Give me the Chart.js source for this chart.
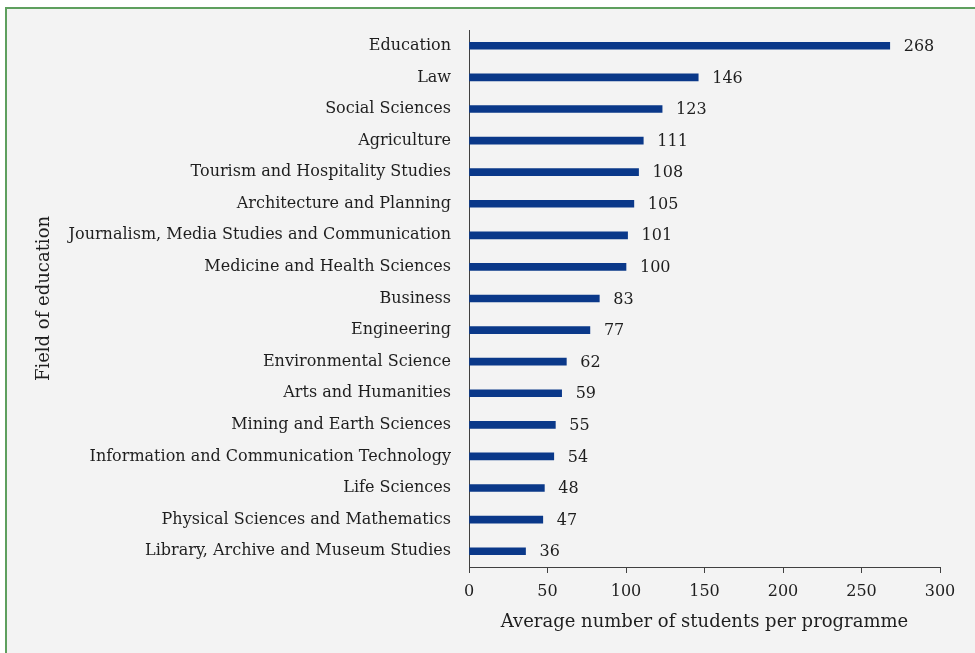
<!DOCTYPE html>
<html>
<head>
<meta charset="utf-8">
<script src="https://cdn.jsdelivr.net/npm/chart.js@4/dist/chart.umd.min.js"></script>
<style>
html,body{margin:0;padding:0;background:#ffffff;}
#frame{position:absolute;left:5px;top:7px;width:970px;height:646px;background:#f3f3f3;border-left:2px solid #5e9f5e;border-top:2px solid #5e9f5e;box-sizing:border-box;}
#wrap{position:absolute;left:0;top:0;width:975px;height:653px;}
</style>
</head>
<body>
<div id="frame"></div>
<div id="wrap"><canvas id="c" width="975" height="653"></canvas></div>
<script>
const categories = [
  "Education",
  "Law",
  "Social Sciences",
  "Agriculture",
  "Tourism and Hospitality Studies",
  "Architecture and Planning",
  "Journalism, Media Studies and Communication",
  "Medicine and Health Sciences",
  "Business",
  "Engineering",
  "Environmental Science",
  "Arts and Humanities",
  "Mining and Earth Sciences",
  "Information and Communication Technology",
  "Life Sciences",
  "Physical Sciences and Mathematics",
  "Library, Archive and Museum Studies"
];
const values = [268, 146, 123, 111, 108, 105, 101, 100, 83, 77, 62, 59, 55, 54, 48, 47, 36];
const xTickValues = [0, 50, 100, 150, 200, 250, 300];
const xTitle = "Average number of students per programme";
const yTitle = "Field of education";

const FONT = "'DejaVu Serif', serif";
const TEXT = "#1e1e1e";

const valueLabels = {
  id: 'valueLabels',
  afterDatasetsDraw(chart) {
    const ctx = chart.ctx;
    const meta = chart.getDatasetMeta(0);
    ctx.save();
    ctx.font = "16px " + FONT;
    ctx.fillStyle = TEXT;
    ctx.textAlign = 'left';
    ctx.textBaseline = 'middle';
    meta.data.forEach((bar, i) => {
      ctx.fillText(String(values[i]), bar.x + 14, bar.y + 1);
    });
    ctx.restore();
  }
};

new Chart(document.getElementById('c'), {
  type: 'bar',
  data: {
    labels: categories,
    datasets: [{
      data: values,
      backgroundColor: '#0a3889',
      barThickness: 7
    }]
  },
  options: {
    indexAxis: 'y',
    responsive: false,
    animation: false,
    events: [],
    layout: { padding: { left: 0, right: 35, top: 30, bottom: 0 } },
    plugins: { legend: { display: false }, tooltip: { enabled: false } },
    scales: {
      x: {
        type: 'linear',
        min: 0,
        max: 300,
        afterBuildTicks(scale) { scale.ticks = xTickValues.map(v => ({ value: v })); },
        afterFit(scale) { scale.height = 86; },
        grid: { drawOnChartArea: false, drawTicks: true, tickLength: 6, color: '#404040', lineWidth: 1 },
        border: { display: true, color: '#404040', width: 1 },
        ticks: { color: TEXT, font: { family: FONT, size: 16 }, padding: 9, maxRotation: 0 },
        title: { display: true, text: xTitle, color: TEXT, font: { family: FONT, size: 18 }, padding: { top: 4, bottom: 20 } }
      },
      y: {
        afterFit(scale) { scale.width = 469; },
        grid: { display: true, drawOnChartArea: false, drawTicks: false },
        border: { display: true, color: '#404040', width: 1 },
        ticks: { color: TEXT, font: { family: FONT, size: 16 }, padding: 18, autoSkip: false },
        title: { display: true, text: yTitle, color: TEXT, font: { family: FONT, size: 18 }, padding: { top: 34, bottom: 0 } }
      }
    }
  },
  plugins: [valueLabels]
});
</script>
</body>
</html>
